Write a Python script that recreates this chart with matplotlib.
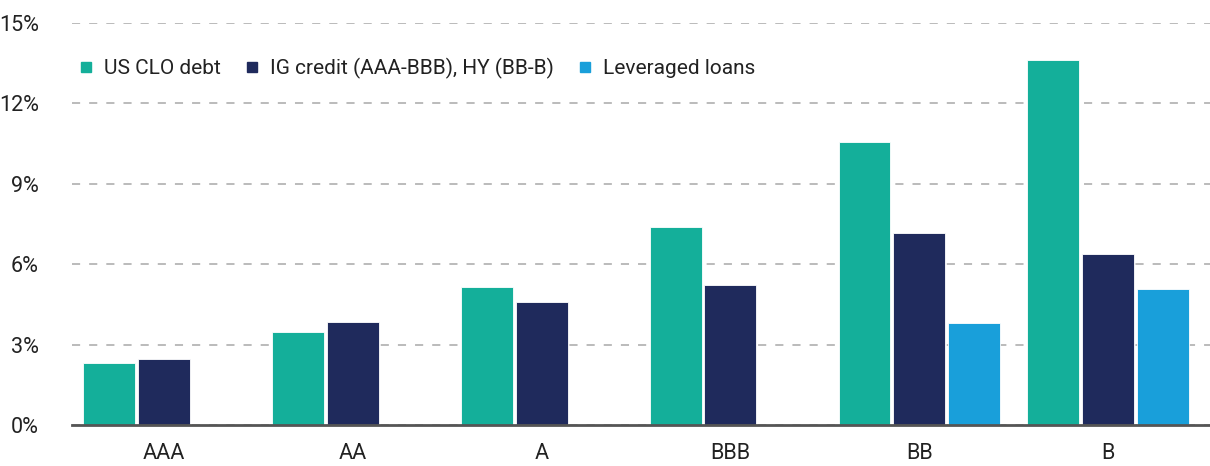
import matplotlib.pyplot as plt
import numpy as np
from matplotlib.lines import Line2D
from matplotlib.ticker import FuncFormatter

plt.rcParams['font.family'] = ['Roboto', 'DejaVu Sans']

ratings = ['AAA', 'AA', 'A', 'BBB', 'BB', 'B']
clo_debt = [2.31, 3.47, 5.15, 7.39, 10.55, 13.62]
ig_hy = [2.46, 3.84, 4.59, 5.22, 7.15, 6.37]
lev_loans = [np.nan, np.nan, np.nan, np.nan, 3.80, 5.06]

series_names = ['US CLO debt', 'IG credit (AAA-BBB), HY (BB-B)', 'Leveraged loans']
colors = ['#14AF9A', '#1F2A5C', '#199FDA']

fig = plt.figure(figsize=(12.10, 4.66), dpi=100)
ax = fig.add_axes([72 / 1210, 41 / 466, 1 - 72 / 1210, 402 / 466])

x = np.arange(len(ratings))
width = 0.275
step = 0.29
for i, (vals, c) in enumerate(zip([clo_debt, ig_hy, lev_loans], colors)):
    ax.bar(x + (i - 1) * step, vals, width, color=c, edgecolor='white',
           linewidth=0.6, zorder=3)

ax.set_xlim(-0.487, 5.54)
ax.set_ylim(0, 15)
ax.set_yticks([0, 3, 6, 9, 12, 15])
ax.yaxis.set_major_formatter(FuncFormatter(lambda v, p: '%d%%' % v))
ax.set_xticks(x)
ax.set_xticklabels(ratings)
ax.tick_params(axis='both', length=0, labelsize=15.5, colors='#222222')
ax.tick_params(axis='x', pad=13)
ax.tick_params(axis='y', pad=24)

ax.grid(axis='y', color='#b5b5b5', linestyle=(0, (4.5, 5.0)), linewidth=1.3, zorder=0)
for s in ['top', 'right', 'left']:
    ax.spines[s].set_visible(False)
ax.spines['bottom'].set_color('#555555')
ax.spines['bottom'].set_linewidth(2)
ax.spines['bottom'].set_zorder(4)

handles = [Line2D([], [], marker='s', linestyle='none', markersize=7.5, color=c) for c in colors]
leg = ax.legend(handles, series_names, loc='upper left', bbox_to_anchor=(-0.004, 0.935),
                ncol=3, frameon=False, fontsize=15, handletextpad=0.35,
                columnspacing=1.0, handlelength=1.0, borderaxespad=0)
for t in leg.get_texts():
    t.set_color('#222222')

fig.savefig('out.png', dpi=100, facecolor='white')
